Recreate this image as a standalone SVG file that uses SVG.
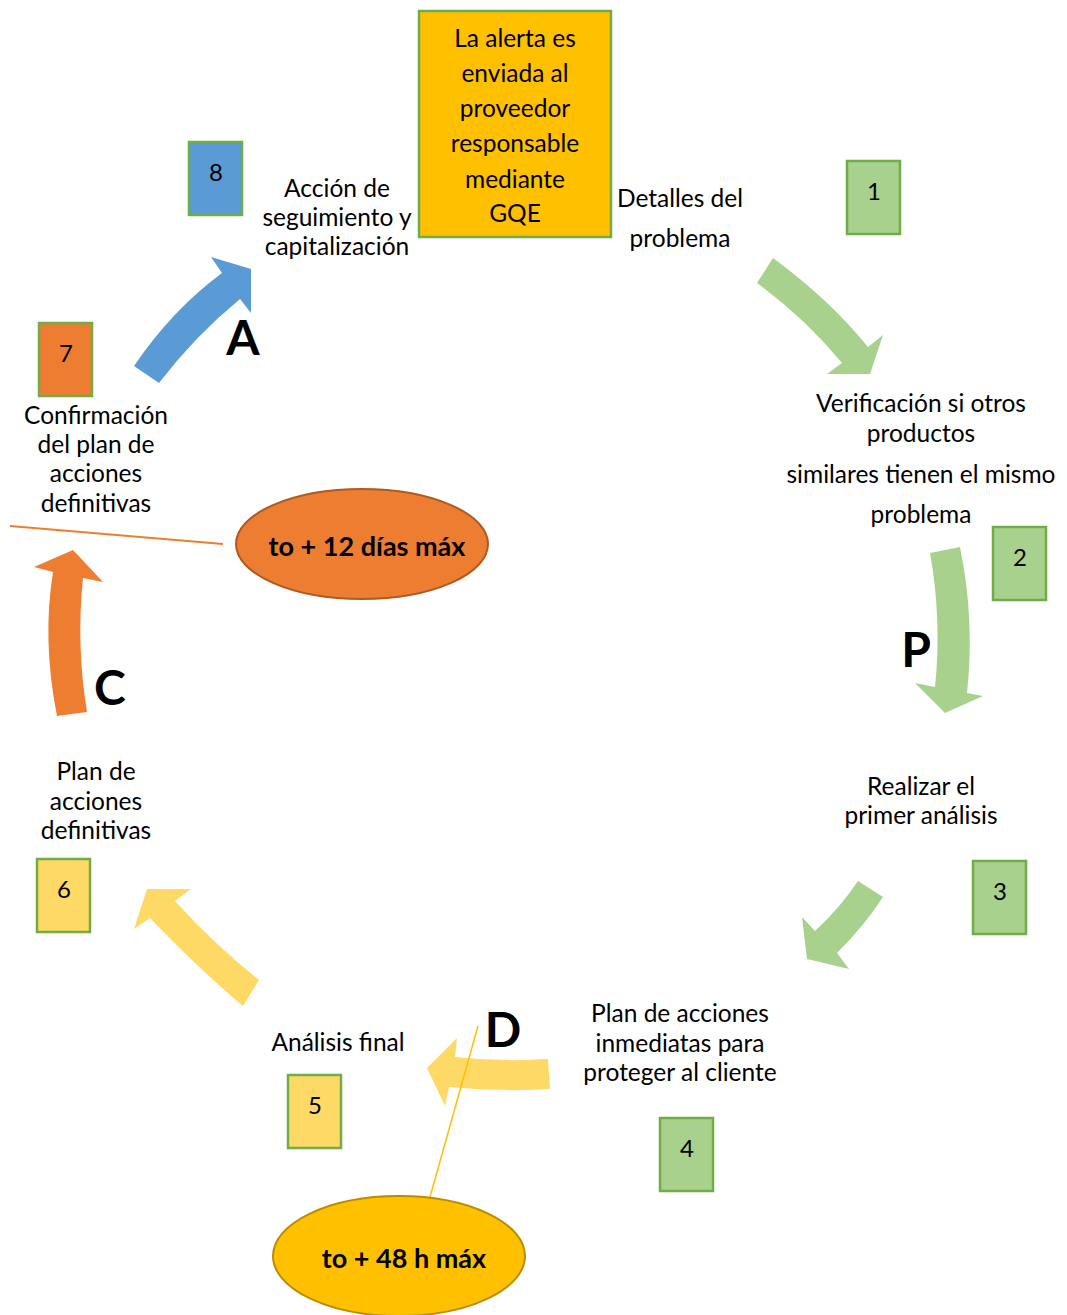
<svg xmlns="http://www.w3.org/2000/svg" width="1067" height="1315" viewBox="0 0 1067 1315">
<style>
text{font-family:Lato,"Open Sans","Liberation Sans",sans-serif;fill:#000}
.t{font-size:24.5px;text-anchor:middle}
.n{font-size:24px;text-anchor:middle}
.L{font-size:48px;font-weight:bold;text-anchor:middle}
.e{font-size:27px;font-weight:bold;text-anchor:middle}
.g{fill:#a9d18e;stroke:#70ad47;stroke-width:2.5}
.y{fill:#ffd966;stroke:#70ad47;stroke-width:2.5}
.o{fill:#ed7d31;stroke:#70ad47;stroke-width:2.5}
.b{fill:#5b9bd5;stroke:#70ad47;stroke-width:2.5}
</style>
<rect width="1067" height="1315" fill="#fff"/>
<g id="connectors">
<path d="M134,366 Q172,310 222,273 L211,257 L251,269 L251,313 L240,299 Q195,336 159,383 Z" fill="#5b9bd5"/>
<path d="M773,258 Q830,300 868,347 L883,335 L870,374 L827,374 L842,363 Q805,318 757,283 Z" fill="#a9d18e"/>
<path d="M930,553 Q942,620 935,687 L915,683 L945,713 L983,696 L967,693 Q975,620 960,547 Z" fill="#a9d18e"/>
<path d="M858,881 Q840,908 815,931 L802,917 L807,959 L849,969 L837,953 Q865,925 883,897 Z" fill="#a9d18e"/>
<path d="M548,1059 Q500,1062 455,1057 L457,1038 L427,1068 L445,1106 L449,1087 Q500,1092 550,1089 Z" fill="#ffd966"/>
<path d="M243,1006 Q200,970 150,918 L134,929 L147,889 L191,889 L175,901 Q215,945 259,980 Z" fill="#ffd966"/>
<path d="M57,716 Q42,640 53,572 L34,567 L73,550 L103,582 L83,578 Q76,645 87,712 Z" fill="#ed7d31"/>
<line x1="10" y1="526" x2="223" y2="544" stroke="#ed7d31" stroke-width="2"/>
<line x1="478" y1="1026" x2="430" y2="1197" stroke="#ffc000" stroke-width="1.5"/>
</g>
<g id="alert">
<rect x="419" y="11" width="192" height="226" fill="#ffc000" stroke="#70ad47" stroke-width="2.5"/>
<text class="t" x="515" y="47">La alerta es</text>
<text class="t" x="515" y="82">enviada al</text>
<text class="t" x="515" y="117">proveedor</text>
<text class="t" x="515" y="152">responsable</text>
<text class="t" x="515" y="188">mediante</text>
<text class="t" x="515" y="222">GQE</text>
</g>
<g id="n1">
<rect class="g" x="847" y="161" width="53" height="73"/>
<text class="n" x="874" y="200">1</text>
<text class="t" x="680" y="207">Detalles del</text>
<text class="t" x="680" y="247">problema</text>
</g>
<g id="n2">
<rect class="g" x="993" y="527" width="53" height="73"/>
<text class="n" x="1020" y="566">2</text>
<text class="t" x="921" y="412">Verificación si otros</text>
<text class="t" x="921" y="442">productos</text>
<text class="t" x="921" y="483">similares tienen el mismo</text>
<text class="t" x="921" y="523">problema</text>
</g>
<g id="n3">
<rect class="g" x="973" y="861" width="53" height="73"/>
<text class="n" x="1000" y="900">3</text>
<text class="t" x="921" y="795">Realizar el</text>
<text class="t" x="921" y="824">primer análisis</text>
</g>
<g id="n4">
<rect class="g" x="660" y="1118" width="53" height="73"/>
<text class="n" x="687" y="1157">4</text>
<text class="t" x="680" y="1022">Plan de acciones</text>
<text class="t" x="680" y="1052">inmediatas para</text>
<text class="t" x="680" y="1081">proteger al cliente</text>
</g>
<g id="n5">
<rect class="y" x="288" y="1075" width="53" height="73"/>
<text class="n" x="315" y="1114">5</text>
<text class="t" x="338" y="1051">Análisis final</text>
</g>
<g id="n6">
<rect class="y" x="37" y="859" width="53" height="73"/>
<text class="n" x="64" y="898">6</text>
<text class="t" x="96" y="780">Plan de</text>
<text class="t" x="96" y="810">acciones</text>
<text class="t" x="96" y="839">definitivas</text>
</g>
<g id="n7">
<rect class="o" x="39" y="323" width="53" height="73"/>
<text class="n" x="66" y="362">7</text>
<text class="t" x="96" y="424">Confirmación</text>
<text class="t" x="96" y="453">del plan de</text>
<text class="t" x="96" y="482">acciones</text>
<text class="t" x="96" y="512">definitivas</text>
</g>
<g id="n8">
<rect class="b" x="189" y="142" width="53" height="73"/>
<text class="n" x="216" y="181">8</text>
<text class="t" x="337" y="197">Acción de</text>
<text class="t" x="337" y="226">seguimiento y</text>
<text class="t" x="337" y="255">capitalización</text>
</g>
<g id="letters">
<text class="L" x="243" y="355">A</text>
<text class="L" x="916" y="667">P</text>
<text class="L" x="110" y="705">C</text>
<text class="L" x="503" y="1047">D</text>
</g>
<g id="e12">
<ellipse cx="362" cy="544" rx="126" ry="55" fill="#ed7d31" stroke="#ae5a21" stroke-width="2"/>
<text class="e" x="367" y="556">to + 12 días máx</text>
</g>
<g id="e48">
<ellipse cx="399" cy="1256" rx="126" ry="60" fill="#ffc000" stroke="#bc8c00" stroke-width="2"/>
<text class="e" x="404" y="1268">to + 48 h máx</text>
</g>
</svg>
